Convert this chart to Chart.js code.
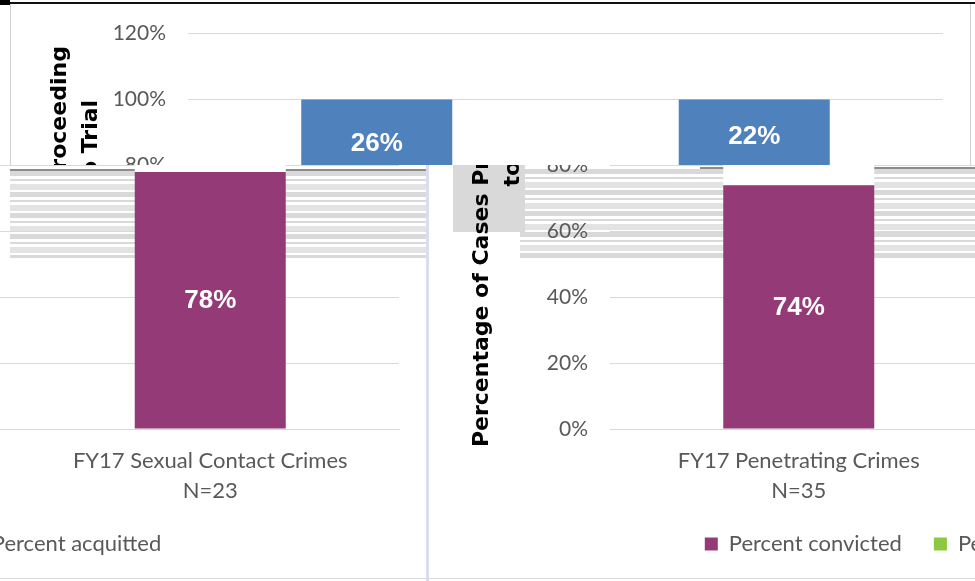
<!DOCTYPE html>
<html><head><meta charset="utf-8">
<script src="https://cdn.jsdelivr.net/npm/chart.js@4.4.1/dist/chart.umd.min.js"></script>
<style>
html,body{margin:0;padding:0;background:#fff;width:975px;height:581px;overflow:hidden;position:relative;}
.clip{position:absolute;overflow:hidden;}
.wrap{position:absolute;width:962px;height:592px;}
.deco{position:absolute;}
.stripes{background:repeating-linear-gradient(to bottom,#d9d9d9 0px,#d9d9d9 5px,#fff 5px,#fff 8px,#d9d9d9 8px,#d9d9d9 10px,#fff 10px,#fff 13px,#e3e3e3 13px,#e3e3e3 19px,#fff 19px,#fff 21px);}
</style></head><body>
<div class="deco stripes" style="left:10px;top:171px;width:417px;height:87px;"></div>
<div class="deco stripes" style="left:520px;top:169px;width:455px;height:89px;"></div>
<div class="deco" style="left:453px;top:165px;width:72px;height:67px;background:#d9d9d9;"></div>
<div class="deco" style="left:10px;top:169px;width:417px;height:2px;background:#8c8c8c;"></div>
<div class="deco" style="left:700px;top:167px;width:275px;height:2px;background:#8c8c8c;"></div>

<div class="clip" id="pTop" style="left:10px;top:3px;width:962px;height:162px;background:#fff;"><div class="wrap" id="wTop"><canvas id="cTop" width="962" height="592"></canvas></div></div>
<div class="clip" id="pLL" style="left:0px;top:165px;width:428px;height:355px;"><div class="wrap" id="wLL"><canvas id="cLL" width="962" height="592"></canvas></div></div>
<div class="clip" id="pLR" style="left:430px;top:165px;width:545px;height:355px;"><div class="wrap" id="wLR"><canvas id="cLR" width="962" height="592"></canvas></div></div>
<div class="clip" id="pLLleg" style="left:0px;top:520px;width:428px;height:58px;background:#fff;"><div class="wrap" id="wLLleg"><canvas id="cLLleg" width="962" height="592"></canvas></div></div>
<div class="clip" id="pLRleg" style="left:430px;top:520px;width:545px;height:58px;background:#fff;"><div class="wrap" id="wLRleg"><canvas id="cLRleg" width="962" height="592"></canvas></div></div>

<div class="deco" style="left:0px;top:0px;width:10px;height:5px;background:#000;"></div>
<div class="deco" style="left:10px;top:2px;width:965px;height:2px;background:#111;"></div>
<div class="deco" style="left:10px;top:4px;width:1px;height:161px;background:#d0d0d0;"></div>
<div class="deco" style="left:970px;top:4px;width:1px;height:161px;background:#d0d0d0;"></div>
<div class="deco" style="left:426px;top:165px;width:3px;height:416px;background:#dcdcf0;"></div>
<div class="deco" style="left:0px;top:578px;width:975px;height:1px;background:#d9d9d9;"></div>

<script>
// ---- data ----
const categories = [["FY17 Penetrating Crimes", "N=35"], ["FY17 Sexual Contact Crimes", "N=23"]];
const seriesNames = ["Percent convicted", "Percent pending", "Percent acquitted"];
const convicted = [74, 78];
const pending = [0, 0];
const acquitted = [26, 22];
const yTickValues = [0, 20, 40, 60, 80, 100, 120];
const yTitleLines = ["Percentage of Cases Proceeding", "to Trial"];

const colors = ["#943B77", "#8DC63F", "#4F81BD"];

// the two title lines sit off-centre in the original (second line pushed up)
const yTitle = [yTitleLines[0] + "    ", " ".repeat(23) + yTitleLines[1]];

const valueLabels = {
  id: 'valueLabels',
  afterDatasetsDraw(chart, args, opts) {
    const ctx = chart.ctx;
    ctx.save();
    ctx.font = 'bold 26px "Liberation Sans", Arial, sans-serif';
    ctx.fillStyle = '#ffffff';
    ctx.textAlign = 'center';
    ctx.textBaseline = 'middle';
    chart.data.datasets.forEach((ds, i) => {
      if (opts.skip && opts.skip.includes(i)) return;
      const meta = chart.getDatasetMeta(i);
      meta.data.forEach((bar, j) => {
        const v = ds.data[j];
        if (!v) return;
        const p = bar.getProps(['x', 'y', 'base'], true);
        ctx.fillText(v + '%', p.x, (p.y + p.base) / 2 + 1);
      });
    });
    ctx.restore();
  }
};

// hideTop: the top (acquitted) segment is blanked out in the lower fragments
function makeChart(id, hideTop) {
  const seriesData = [convicted, pending, acquitted];
  return new Chart(document.getElementById(id), {
    type: 'bar',
    data: {
      labels: categories,
      datasets: seriesNames.map((n, i) => ({
        label: n, data: seriesData[i], borderWidth: 0,
        backgroundColor: (c) => (hideTop && i === 2 && c.type === 'data') ? '#ffffff' : colors[i]
      }))
    },
    options: {
      responsive: false, animation: false, devicePixelRatio: 1,
      categoryPercentage: 1, barPercentage: 0.4,
      layout: { padding: { top: 26, right: 29, left: 0, bottom: 26 } },
      plugins: {
        tooltip: { enabled: false },
        valueLabels: { skip: hideTop ? [2] : [] },
        legend: {
          position: 'bottom',
          labels: { boxWidth: 13, boxHeight: 13, padding: 32, color: '#595959',
            font: { family: 'Lato', size: 22 } }
        }
      },
      scales: {
        x: {
          stacked: true,
          grid: { display: false, drawTicks: false },
          border: { color: '#d9d9d9', width: 1 },
          ticks: { color: '#595959', padding: 17, maxRotation: 0,
            font: { family: 'Lato', size: 22, lineHeight: 1.36 } },
          afterFit: s => { s.height = 72; }
        },
        y: {
          stacked: true, min: 0, max: 120,
          afterBuildTicks: s => { s.ticks = yTickValues.map(v => ({ value: v })); },
          grid: { color: '#d9d9d9', drawTicks: false },
          border: { display: false },
          ticks: { color: '#595959', padding: 22, callback: v => v + '%',
            font: { family: 'Lato', size: 21 } },
          title: { display: true, text: yTitle, color: '#000',
            padding: { top: 35, bottom: 0 },
            font: { family: 'DejaVu Sans', size: 22, weight: 'bold', lineHeight: 1.4 } },
          afterFit: s => { s.width = 178; }
        }
      }
    },
    plugins: [valueLabels]
  });
}

const baseLeft = 10, baseTop = -1;
function place(wrapId, clipId, shift) {
  const clip = document.getElementById(clipId);
  const w = document.getElementById(wrapId);
  w.style.left = (baseLeft + shift - parseFloat(clip.style.left)) + 'px';
  w.style.top = (baseTop - parseFloat(clip.style.top)) + 'px';
}
makeChart('cTop', false); place('wTop', 'pTop', 0);
makeChart('cLL', true); place('wLL', 'pLL', -544);
makeChart('cLR', true); place('wLR', 'pLR', 422);
// legend fragments
const legL = makeChart('cLLleg', true);
const hbL = legL.legend.legendHitBoxes[2];
place('wLLleg', 'pLLleg', 161 - (hbL.left + hbL.width) - baseLeft);
const legR = makeChart('cLRleg', true);
const hbR = legR.legend.legendHitBoxes[0];
place('wLRleg', 'pLRleg', 705 - hbR.left - baseLeft);
</script>
</body></html>
